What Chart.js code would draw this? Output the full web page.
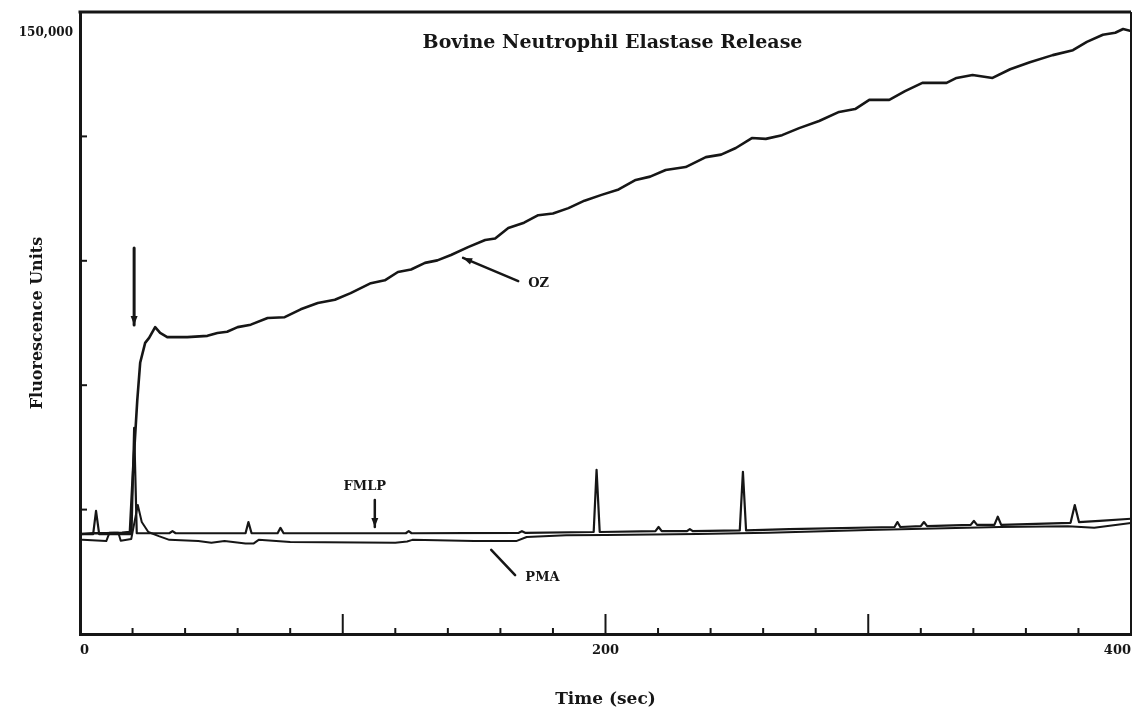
<!DOCTYPE html>
<html>
<head>
<meta charset="utf-8">
<title>Bovine Neutrophil Elastase Release</title>
<script src="https://cdn.jsdelivr.net/npm/chart.js@4.4.1/dist/chart.umd.min.js"></script>
<style>
  html, body { margin: 0; padding: 0; background: #fff; }
  #wrap { width: 1134px; height: 714px; }
</style>
</head>
<body>
<div id="wrap"><canvas id="chart" width="1134" height="714"></canvas></div>
<script>
/* === DATA (time in sec, fluorescence units) === */
const ozTime = [0, 5, 10, 16, 19, 20.2, 21.8, 22.9, 24.8, 26.3, 28.6, 30.5, 33.2, 40.8, 48.5,
  52.3, 56, 60, 65, 71.4, 77.9, 84, 90.5, 97, 103, 110.7, 116, 121, 126, 131.3,
  136, 141.2, 147.7, 154.2, 158, 163, 169, 174.4, 180, 185.9, 192, 198.5, 205, 211.5, 217,
  222.9, 230.5, 238.2, 244, 249.6, 255.7, 261, 267.2, 273.7, 281.3, 288.9, 295, 300.4, 308, 314,
  320.6, 329.8, 333.6, 339.7, 347.3, 354, 361.5, 370.2, 377.9, 383.2, 389.3, 394, 397, 400];
const ozValue = [24100, 24300, 24300, 24400, 24600, 39600, 56400, 65400, 70200, 71400, 74000, 72600, 71600, 71600, 71900,
  72600, 72900, 74000, 74600, 76200, 76400, 78300, 79800, 80600, 82200, 84600, 85300, 87300, 87900, 89500,
  90100, 91400, 93300, 95000, 95400, 97900, 99200, 101000, 101400, 102700, 104500, 105900, 107200, 109500, 110300,
  111900, 112600, 115000, 115600, 117200, 119600, 119400, 120300, 122000, 123700, 125900, 126600, 128800, 128800, 130900,
  132900, 132900, 134100, 134800, 134100, 136200, 137900, 139600, 140800, 142800, 144500, 145000, 145900, 145400];

const fmlpTime = [0, 5, 6.1, 7.3, 19.6, 20.6, 21.6, 34, 35.2, 36.4, 63, 64.1, 65.3, 75.2, 76.3,
  77.5, 124, 125.1, 126.2, 167, 168.2, 169.4, 195.5, 196.6, 197.8, 219, 220.2, 221.4, 231, 232.1,
  233.2, 251.1, 252.3, 253.5, 270, 310, 311.1, 312.2, 320, 321.2, 322.4, 339, 340.2, 341.4, 348,
  349.3, 350.6, 377, 378.6, 380.2, 388, 400];
const fmlpValue = [24100, 24100, 29700, 24100, 24100, 49700, 24300, 24300, 24800, 24300, 24300, 27000, 24300, 24300, 25600,
  24300, 24300, 24800, 24300, 24400, 24800, 24400, 24600, 39600, 24600, 24800, 25800, 24800, 24800, 25300,
  24800, 25000, 39100, 25000, 25300, 25800, 27000, 25800, 26000, 27000, 26000, 26300, 27300, 26300, 26300,
  28300, 26300, 26800, 31100, 27000, 27300, 27800];

const pmaTime = [1, 10, 11.2, 14.6, 15.5, 19.5, 22, 23.5, 26, 30, 34, 45, 50, 55, 63,
  66, 68, 80, 120, 124.5, 126.5, 150, 166, 170, 185, 200, 235, 262, 300, 350, 376, 386, 400];
const pmaValue = [22700, 22400, 24400, 24400, 22500, 22900, 31100, 27000, 24600, 23600, 22700, 22400, 22000, 22400, 21800,
  21800, 22700, 22200, 22000, 22300, 22700, 22400, 22400, 23400, 23800, 23900, 24100, 24400, 25100, 25800, 26000, 25600, 26800];

const xLabels = [0, 200, 400];
const yLabels = [150000];

/* === ANNOTATIONS (in data units) === */
const arrows = [
  { from: [20.6, 93100], to: [20.6, 74500], head: true, width: 3 },
  { from: [166.8, 85100], to: [145.8, 90700], head: true, width: 2.5 },
  { from: [112.2, 32300], to: [112.2, 25800], head: true, width: 2.5 },
  { from: [165.6, 14200], to: [156.5, 20300], head: false, width: 2.5 }
];
const notes = [
  { text: 'OZ', at: [170.6, 84600], align: 'left' },
  { text: 'FMLP', at: [108.4, 35500], align: 'center' },
  { text: 'PMA', at: [169.5, 13500], align: 'left' }
];

const INK = '#161616';
const SERIF = '"DejaVu Serif", "Liberation Serif", serif';

function toPoints(xs, ys) {
  return xs.map((t, i) => ({ x: t, y: ys[i] }));
}

function trace(label, xs, ys, width) {
  return {
    label,
    data: toPoints(xs, ys),
    borderColor: INK,
    borderWidth: width,
    borderJoinStyle: 'round',
    borderCapStyle: 'round',
    pointRadius: 0,
    tension: 0,
    fill: false
  };
}

/* === FRAME, TICKS, TITLE, ARROWS === */
const framePlugin = {
  id: 'frame',
  afterDatasetsDraw(chart) {
    const { ctx, chartArea: a, scales: { x, y } } = chart;
    ctx.save();
    ctx.strokeStyle = INK;
    ctx.fillStyle = INK;

    // top and right edges of the box
    ctx.lineWidth = 3;
    ctx.beginPath();
    ctx.moveTo(a.left - 1.5, a.top);
    ctx.lineTo(a.right, a.top);
    ctx.stroke();
    ctx.lineWidth = 2;
    ctx.beginPath();
    ctx.moveTo(a.right, a.top);
    ctx.lineTo(a.right, a.bottom);
    ctx.stroke();

    // tick marks point into the plot
    ctx.lineWidth = 2;
    x.ticks.forEach(t => {
      if (t.value <= x.min || t.value >= x.max) return;
      const px = x.getPixelForValue(t.value);
      const len = t.value % 100 === 0 ? 20 : 6;
      ctx.beginPath();
      ctx.moveTo(px, a.bottom);
      ctx.lineTo(px, a.bottom - len);
      ctx.stroke();
    });
    y.ticks.forEach(t => {
      if (t.value <= y.min || t.value >= y.max) return;
      const py = y.getPixelForValue(t.value);
      ctx.beginPath();
      ctx.moveTo(a.left, py);
      ctx.lineTo(a.left + 7, py);
      ctx.stroke();
    });

    // title sits inside the box
    ctx.font = 'bold 19px ' + SERIF;
    ctx.textAlign = 'center';
    ctx.textBaseline = 'middle';
    ctx.fillText('Bovine Neutrophil Elastase Release', (a.left + a.right) / 2 + 7, a.top + 31);

    // arrows
    arrows.forEach(ar => {
      const x1 = x.getPixelForValue(ar.from[0]), y1 = y.getPixelForValue(ar.from[1]);
      const x2 = x.getPixelForValue(ar.to[0]), y2 = y.getPixelForValue(ar.to[1]);
      ctx.lineWidth = ar.width;
      ctx.lineCap = 'round';
      ctx.beginPath();
      ctx.moveTo(x1, y1);
      ctx.lineTo(x2, y2);
      ctx.stroke();
      if (ar.head) {
        const ang = Math.atan2(y2 - y1, x2 - x1);
        const hl = 9, hw = 3.5;
        ctx.beginPath();
        ctx.moveTo(x2, y2);
        ctx.lineTo(x2 - hl * Math.cos(ang) + hw * Math.sin(ang), y2 - hl * Math.sin(ang) - hw * Math.cos(ang));
        ctx.lineTo(x2 - hl * Math.cos(ang) - hw * Math.sin(ang), y2 - hl * Math.sin(ang) + hw * Math.cos(ang));
        ctx.closePath();
        ctx.fill();
      }
    });

    // trace labels
    ctx.font = 'bold 13px ' + SERIF;
    notes.forEach(n => {
      ctx.textAlign = n.align;
      ctx.fillText(n.text, x.getPixelForValue(n.at[0]), y.getPixelForValue(n.at[1]));
    });
    ctx.restore();
  }
};

/* === CHART === */
window.addEventListener('load', () => {
  const ctx = document.getElementById('chart').getContext('2d');
  new Chart(ctx, {
    type: 'line',
    data: {
      datasets: [
        trace('OZ', ozTime, ozValue, 2.6),
        trace('FMLP', fmlpTime, fmlpValue, 2.2),
        trace('PMA', pmaTime, pmaValue, 2)
      ]
    },
    options: {
      responsive: false,
      animation: false,
      layout: { padding: { top: 12, right: 3, left: 0, bottom: 0 } },
      plugins: { legend: { display: false }, tooltip: { enabled: false } },
      scales: {
        x: {
          type: 'linear',
          min: 0,
          max: 400,
          afterFit(scale) {
            scale.height = 80;
            scale.paddingLeft = 0;
            scale.paddingRight = 0;
          },
          grid: { display: false, drawTicks: false },
          border: { display: true, color: INK, width: 3 },
          ticks: {
            stepSize: 20,
            autoSkip: false,
            maxRotation: 0,
            align: 'inner',
            padding: 9,
            color: INK,
            font: { family: SERIF, size: 13, weight: 'bold' },
            callback: v => xLabels.includes(v) ? String(v) : ''
          },
          title: {
            display: true,
            text: 'Time (sec)',
            color: INK,
            font: { family: SERIF, size: 17, weight: 'bold' },
            padding: { top: 0, bottom: 4 }
          }
        },
        y: {
          min: 0,
          max: 150000,
          afterFit(scale) {
            scale.width = 80;
            scale.paddingTop = 0;
            scale.paddingBottom = 0;
          },
          grid: { display: false, drawTicks: false },
          border: { display: true, color: INK, width: 3 },
          ticks: {
            stepSize: 30000,
            padding: 7,
            labelOffset: 21,
            color: INK,
            font: { family: SERIF, size: 12, weight: 'bold' },
            callback: v => yLabels.includes(v) ? v.toLocaleString('en-US') : ''
          },
          title: {
            display: true,
            text: 'Fluorescence Units',
            color: INK,
            font: { family: SERIF, size: 16, weight: 'bold' },
            padding: { top: 28, bottom: 0 }
          }
        }
      }
    },
    plugins: [framePlugin]
  });
});
</script>
</body>
</html>
